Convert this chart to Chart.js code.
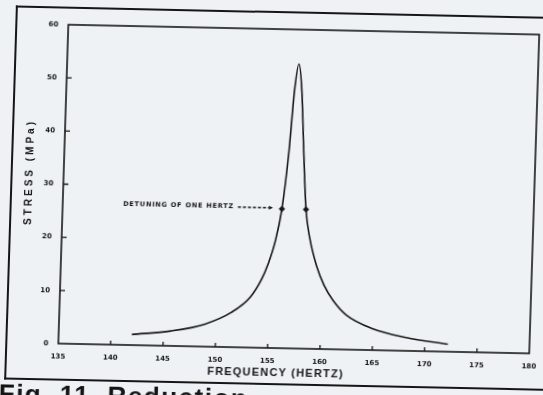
<!DOCTYPE html>
<html>
<head>
<meta charset="utf-8">
<script src="https://cdn.jsdelivr.net/npm/chart.js@4.4.0/dist/chart.umd.min.js"></script>
<style>
  html, body { margin: 0; padding: 0; background: #eef2f4; overflow: hidden; }
  #page { position: absolute; left: 0; top: 0; width: 543px; height: 395px; transform: rotate(1.2deg) skewX(-0.6deg); transform-origin: 50% 50%; }
  #frame { position: absolute; left: 10px; top: 11px; width: 580px; height: 370px; border: 2px solid #161616; border-right: none; }
  #myChart { position: absolute; left: 0; top: 0; }
  #caption { position: absolute; left: 5px; top: 386px; font: bold 26px "Liberation Sans", Arial, sans-serif; letter-spacing: 1.5px; line-height: 1; color: #141414; white-space: nowrap; }
</style>
</head>
<body>
<div id="page">
  <div id="frame"></div>
  <canvas id="myChart" width="543" height="395"></canvas>
  <div id="caption">Fig. 11&nbsp; Reduction</div>
</div>
<script>
// response curve
const freqHz = [142.0, 145.7, 148.9, 151.4, 153.2, 154.2, 154.8, 155.4, 155.95, 156.45, 156.8, 157.15, 157.5, 157.85, 158.25, 158.7, 159.45, 160.2, 161.1, 162.4, 165.0, 168.2, 172.2];
const stressMPa = [2.0, 2.8, 4.2, 6.5, 9.5, 12.8, 15.8, 20.0, 26.2, 37.0, 48.5, 53.5, 48.5, 37.5, 26.2, 20.8, 15.5, 12.0, 9.2, 6.5, 4.0, 2.5, 1.4];

// the two "detuning of one hertz" points
const detuneHz = [155.95, 158.25];
const detuneStress = [26.2, 26.2];

const xTickValues = [135, 140, 145, 150, 155, 160, 165, 170, 175, 180];
const yTickValues = [0, 10, 20, 30, 40, 50, 60];

const ink = "#161616";

const toPoints = (xs, ys) => xs.map((x, i) => ({ x: x, y: ys[i] }));

// plot box, inward ticks, titles and the arrow note
const paperPlugin = {
  id: "paper",
  beforeDatasetsDraw(chart) {
    const ctx = chart.ctx;
    const a = chart.chartArea;
    const xs = chart.scales.x;
    const ys = chart.scales.y;
    ctx.save();
    ctx.strokeStyle = ink;
    ctx.lineWidth = 1.6;
    ctx.strokeRect(a.left, a.top, a.right - a.left, a.bottom - a.top);
    ctx.lineWidth = 1.3;
    ctx.beginPath();
    xs.ticks.forEach((t) => {
      if (t.value === xs.min || t.value === xs.max) return;
      const px = xs.getPixelForValue(t.value);
      ctx.moveTo(px, a.bottom);
      ctx.lineTo(px, a.bottom - 4);
    });
    ys.ticks.forEach((t) => {
      if (t.value === ys.min || t.value === ys.max) return;
      const py = ys.getPixelForValue(t.value);
      ctx.moveTo(a.left, py);
      ctx.lineTo(a.left + 5, py);
    });
    ctx.stroke();
    ctx.restore();
  },
  afterDraw(chart) {
    const ctx = chart.ctx;
    const xs = chart.scales.x;
    const ys = chart.scales.y;
    ctx.save();
    ctx.fillStyle = ink;
    ctx.strokeStyle = ink;

    // axis titles
    ctx.font = "bold 11px 'Liberation Sans', Arial, sans-serif";
    ctx.letterSpacing = "1.2px";
    ctx.textAlign = "center";
    ctx.textBaseline = "middle";
    ctx.fillText("FREQUENCY (HERTZ)", 281, 373);

    ctx.save();
    ctx.translate(29, 177);
    ctx.rotate(-Math.PI / 2);
    ctx.font = "bold 10px 'Liberation Sans', Arial, sans-serif";
    ctx.letterSpacing = "3px";
    ctx.fillText("STRESS (MPa)", 0, 0);
    ctx.restore();

    // note with dashed arrow to the left point
    const mx = xs.getPixelForValue(detuneHz[0]);
    const my = ys.getPixelForValue(detuneStress[0]) - 1;
    ctx.font = "bold 6.5px 'DejaVu Sans', sans-serif";
    ctx.letterSpacing = "0.8px";
    ctx.textAlign = "right";
    ctx.fillText("DETUNING OF ONE HERTZ", mx - 48, my);
    ctx.lineWidth = 1.4;
    ctx.setLineDash([3, 2]);
    ctx.beginPath();
    ctx.moveTo(mx - 44, my);
    ctx.lineTo(mx - 13, my);
    ctx.stroke();
    ctx.setLineDash([]);
    ctx.beginPath();
    ctx.moveTo(mx - 9, my);
    ctx.lineTo(mx - 13, my - 2);
    ctx.lineTo(mx - 13, my + 2);
    ctx.closePath();
    ctx.fill();
    ctx.restore();
  },
};

const ctx = document.getElementById("myChart");
const myChart = new Chart(ctx, {
  type: "scatter",
  data: {
    datasets: [
      {
        label: "Stress",
        data: toPoints(freqHz, stressMPa),
        showLine: true,
        borderColor: ink,
        borderWidth: 1.6,
        pointRadius: 0,
        cubicInterpolationMode: "monotone",
      },
      {
        label: "Detuning",
        data: toPoints(detuneHz, detuneStress),
        showLine: false,
        pointStyle: "rectRot",
        pointRadius: 3.2,
        backgroundColor: ink,
        borderColor: ink,
        borderWidth: 0,
      },
    ],
  },
  options: {
    responsive: false,
    animation: false,
    layout: { padding: { left: 0, top: 29, right: 9, bottom: 0 } },
    plugins: {
      legend: { display: false },
      tooltip: { enabled: false },
    },
    scales: {
      x: {
        type: "linear",
        min: 135,
        max: 180,
        afterBuildTicks: (scale) => {
          scale.ticks = xTickValues.map((v) => ({ value: v }));
        },
        afterFit: (scale) => {
          scale.height = 47;
          scale.paddingLeft = 0;
          scale.paddingRight = 0;
        },
        grid: { display: false, drawTicks: false },
        border: { display: false },
        ticks: {
          padding: 9,
          maxRotation: 0,
          autoSkip: false,
          color: ink,
          font: { family: "'DejaVu Sans', sans-serif", size: 7, weight: "bold" },
        },
      },
      y: {
        type: "linear",
        min: 0,
        max: 60,
        afterBuildTicks: (scale) => {
          scale.ticks = yTickValues.map((v) => ({ value: v }));
        },
        afterFit: (scale) => {
          scale.width = 63;
          scale.paddingTop = 0;
          scale.paddingBottom = 0;
        },
        grid: { display: false, drawTicks: false },
        border: { display: false },
        ticks: {
          padding: 10,
          autoSkip: false,
          color: ink,
          font: { family: "'DejaVu Sans', sans-serif", size: 7, weight: "bold" },
        },
      },
    },
  },
  plugins: [paperPlugin],
});
</script>
</body>
</html>
